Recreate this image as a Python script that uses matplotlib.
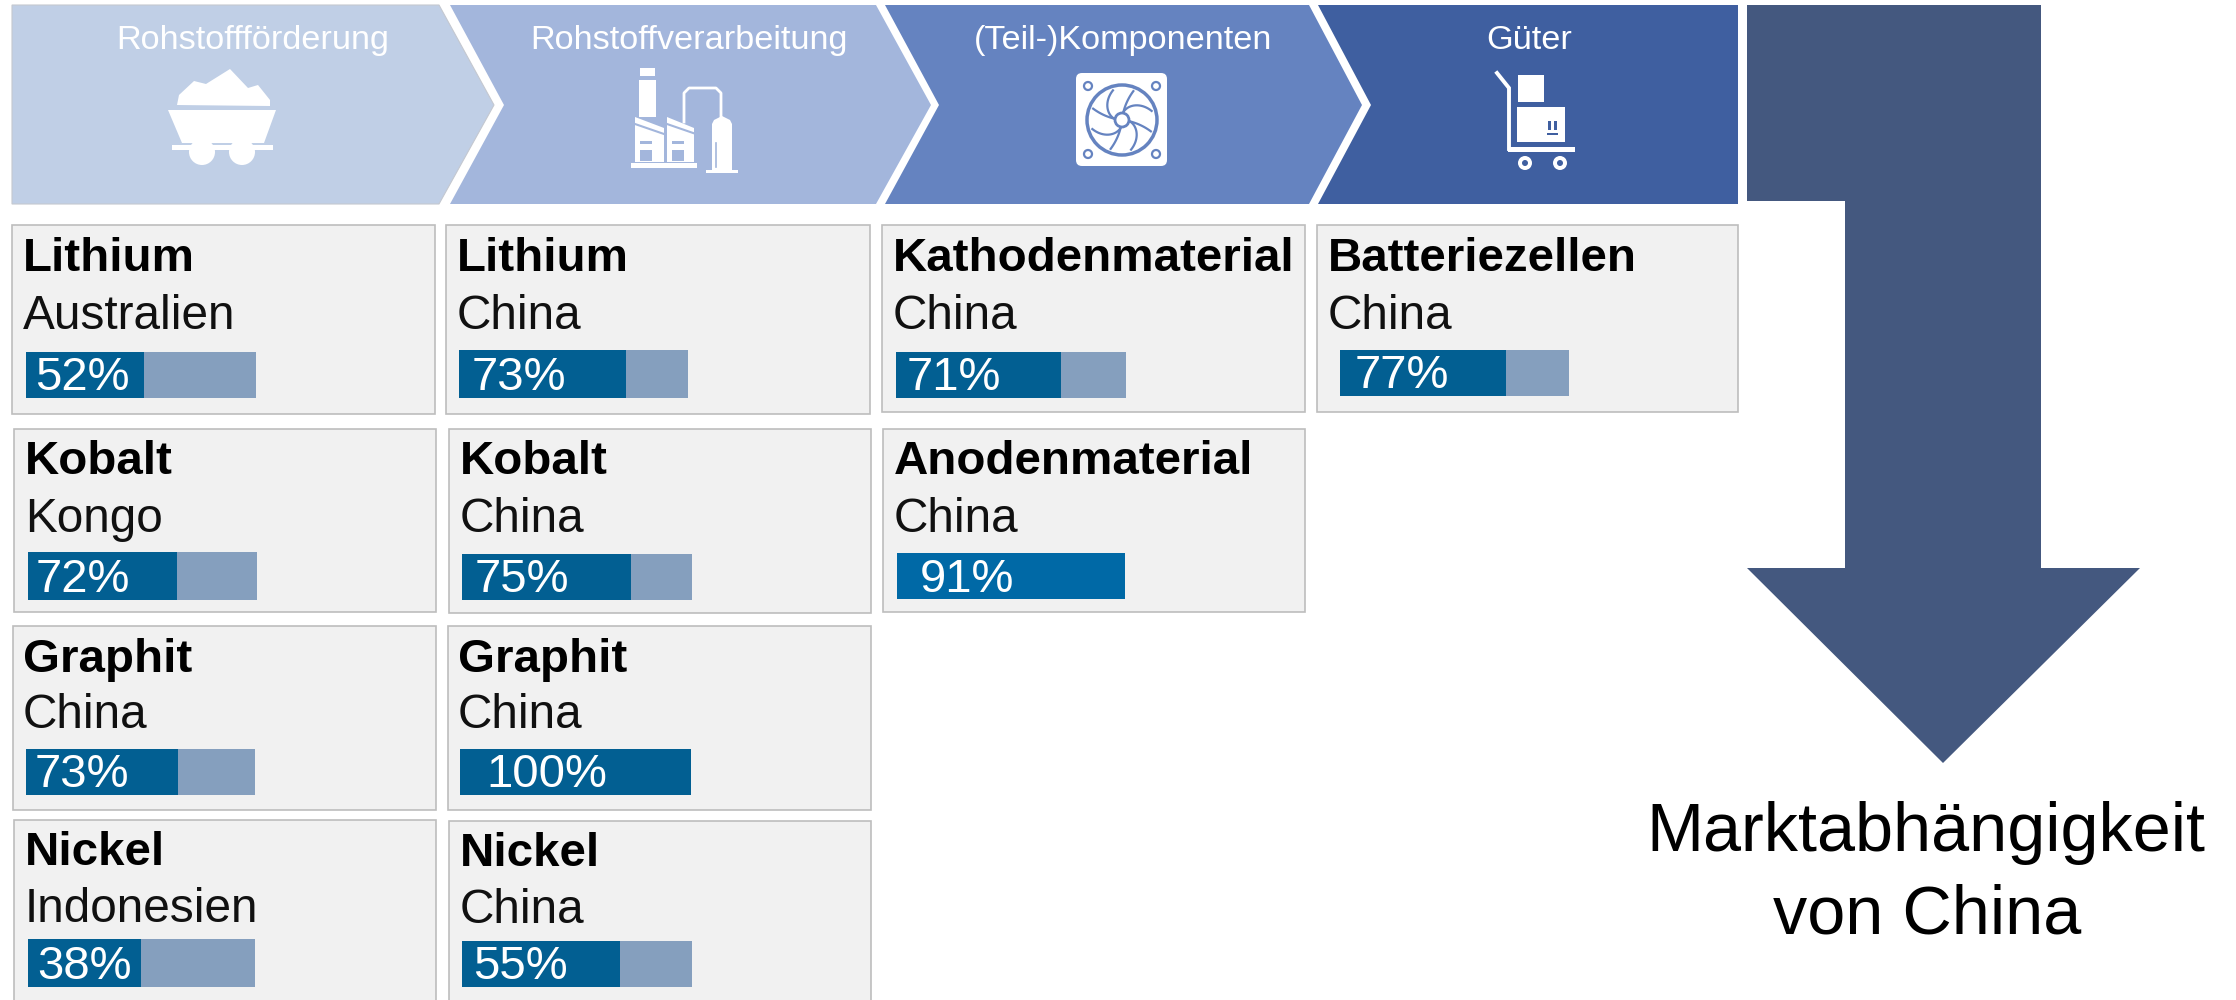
import numpy as np
import matplotlib
matplotlib.use('Agg')
import matplotlib.pyplot as plt
from matplotlib.patches import Polygon, Rectangle, Circle, FancyBboxPatch

plt.rcParams['font.family'] = ['Liberation Sans', 'DejaVu Sans']

# header steps
steps = ["Rohstoffförderung", "Rohstoffverarbeitung", "(Teil-)Komponenten", "Güter"]
step_colors = ['#C0CFE6', '#A3B6DC', '#6583C0', '#3F5FA0']

# cards, column by column
materials = ["Lithium", "Kobalt", "Graphit", "Nickel",
             "Lithium", "Kobalt", "Graphit", "Nickel",
             "Kathodenmaterial", "Anodenmaterial", "Batteriezellen"]
countries = ["Australien", "Kongo", "China", "Indonesien",
             "China", "China", "China", "China",
             "China", "China", "China"]
shares = [52, 72, 73, 38, 73, 75, 100, 55, 71, 91, 77]
# width of the dark part as drawn in the picture (does not always follow the label)
bar_fill = [0.514, 0.65, 0.665, 0.50, 0.73, 0.735, 1.0, 0.686, 0.72, 1.0, 0.727]

# card box x0, x1, y0, y1
card_x0 = [12, 14, 13, 14, 446, 449, 448, 449, 882, 883, 1317]
card_x1 = [435, 436, 436, 436, 870, 871, 871, 871, 1305, 1305, 1738]
card_y0 = [225, 429, 626, 820, 225, 429, 626, 821, 225, 429, 225]
card_y1 = [414, 612, 810, 1010, 414, 613, 810, 1010, 412, 612, 412]
# text positions
text_x = [23, 25, 23, 25, 457, 460, 458, 460, 893, 894, 1328]
title_y = [271, 474, 672, 865, 271, 474, 672, 866, 271, 474, 271]
sub_y = [329, 532, 728, 922, 329, 532, 728, 923, 329, 532, 329]
pct_x = [35, 36, 35, 37, 472, 475, 486, 473, 907, 920, 1355]
pct_y = [390, 592, 787, 979, 390, 592, 787, 979, 390, 592, 388]
# bar boxes
bar_x0 = [25.5, 27.5, 26, 27.5, 459, 462, 460, 462, 895.5, 897, 1340]
bar_x1 = [256, 257, 255, 255, 688, 692, 690.5, 692, 1126, 1125, 1569]
bar_y0 = [352, 552, 749, 939, 350, 554, 749, 941, 352, 553, 350]
bar_y1 = [398, 600, 795, 987, 398, 600, 795, 987, 398, 599, 396]

dark = '#025F92'
light = '#0069A6'
rest = '#859FBE'
arrow_color = '#44587F'

fig = plt.figure(figsize=(22.36, 10), dpi=100)
ax = fig.add_axes([0, 0, 1, 1])
ax.set_xlim(0, 2236)
ax.set_ylim(1000, 0)
ax.axis('off')

# chevrons
top, mid, bot = 5, 105, 204
ax.add_patch(Polygon([(12, top), (439, top), (494, mid), (439, bot), (12, bot)], fc=step_colors[0], ec='#C4C8D0', lw=0.8))
ax.add_patch(Polygon([(450, top), (876, top), (931, mid), (876, bot), (450, bot), (504, mid)], fc=step_colors[1], ec='none'))
ax.add_patch(Polygon([(885, top), (1309, top), (1362, mid), (1309, bot), (885, bot), (939, mid)], fc=step_colors[2], ec='none'))
ax.add_patch(Polygon([(1318, top), (1738, top), (1738, bot), (1318, bot), (1371, mid)], fc=step_colors[3], ec='none'))
step_x = [253, 689, 1123, 1529]
for i in range(4):
    ax.text(step_x[i], 49, steps[i], color='white', fontsize=24.7, ha='center', va='baseline')

# mine cart
ax.add_patch(Polygon([(177, 105), (179, 95), (194, 81), (206, 84), (230, 69), (248, 88), (258, 85), (270, 100), (270, 106)], fc='white', ec='none'))
ax.add_patch(Polygon([(168, 110), (276, 110), (264, 143), (182, 143)], fc='white', ec='none'))
ax.add_patch(Rectangle((172, 145), 101, 5, fc='white', ec='none'))
for cx in [202, 242]:
    ax.add_patch(Circle((cx, 152), 13, fc='white', ec='none'))

# factory
bg = step_colors[1]
ax.add_patch(Rectangle((640, 68), 15, 8, fc='white', ec='none'))
ax.add_patch(Rectangle((639, 80), 17, 37, fc='white', ec='none'))
ax.add_patch(Polygon([(635, 117), (664, 128), (664, 162), (635, 162)], fc='white', ec='none'))
ax.add_patch(Polygon([(667, 117), (694, 128), (694, 162), (667, 162)], fc='white', ec='none'))
for bx in [640, 672]:
    ax.add_patch(Rectangle((bx, 150), 12, 11, fc=bg, ec='none'))
    ax.add_patch(Rectangle((bx, 141), 12, 3, fc=bg, ec='none'))
    ax.plot([bx - 5, bx + 24], [124, 134], color=bg, lw=1.5)
ax.add_patch(Rectangle((631, 163), 66, 5, fc='white', ec='none'))
ax.plot([684, 684, 689, 716, 721, 721], [122, 93, 88, 88, 93, 118], color='white', lw=2)
ax.add_patch(Polygon([(712, 124), (714, 120), (722, 116), (730, 120), (732, 124), (732, 170), (712, 170)], fc='white', ec='none'))
ax.add_patch(Rectangle((706, 170), 32, 3, fc='white', ec='none'))
ax.plot([716, 716], [143, 167], color=bg, lw=1.2)

# fan
bg = step_colors[2]
ax.add_patch(FancyBboxPatch((1080, 77), 83, 85, boxstyle='round,pad=4,rounding_size=6', fc='white', ec='none'))
ax.add_patch(Circle((1122, 120), 35, fc='none', ec=bg, lw=2.5))
ax.add_patch(Circle((1122, 120), 7, fc='none', ec=bg, lw=2))
for hx, hy in [(1088, 86), (1156, 86), (1088, 154), (1156, 154)]:
    ax.add_patch(Circle((hx, hy), 4, fc='none', ec=bg, lw=1.6))
t = np.linspace(0, 1, 20)
for a in np.radians([10, 100, 190, 280]):
    r = 8 + 23 * t
    ax.plot(1122 + r * np.cos(a + 1.1 * t), 120 + r * np.sin(a + 1.1 * t), color=bg, lw=1.6)
    ax.plot(1122 + r * np.cos(a + 0.2 * t), 120 + r * np.sin(a + 0.2 * t), color=bg, lw=1.6)

# hand truck
bg = step_colors[3]
ax.plot([1497, 1509, 1509], [73, 88, 149], color='white', lw=2.8, solid_joinstyle='miter')
ax.add_patch(Rectangle((1508, 147), 67, 5, fc='white', ec='none'))
ax.add_patch(Rectangle((1518, 75), 26, 27, fc='white', ec='none'))
ax.add_patch(Rectangle((1517, 107), 48, 35, fc='white', ec='none'))
ax.add_patch(Rectangle((1548, 121), 2.5, 9, fc=bg, ec='none'))
ax.add_patch(Rectangle((1554, 121), 2.5, 9, fc=bg, ec='none'))
ax.add_patch(Rectangle((1547, 133), 11, 2, fc=bg, ec='none'))
for cx in [1525, 1560]:
    ax.add_patch(Circle((cx, 163), 7, fc='white', ec='none'))
    ax.add_patch(Circle((cx, 163), 3, fc=bg, ec='none'))

# arrow
ax.add_patch(Polygon([(1747, 5), (2041, 5), (2041, 568), (2140, 568), (1943, 763), (1747, 568), (1845, 568), (1845, 201), (1747, 201)], fc=arrow_color, ec='none'))
ax.text(1926, 851, "Marktabhängigkeit", fontsize=49.2, color='black', ha='center', va='baseline')
ax.text(1927, 934, "von China", fontsize=49.2, color='black', ha='center', va='baseline')

# cards
for i in range(len(materials)):
    ax.add_patch(Rectangle((card_x0[i], card_y0[i]), card_x1[i] - card_x0[i], card_y1[i] - card_y0[i],
                           fc='#F1F1F1', ec='#BDBDBD', lw=1.2))
    ax.text(text_x[i], title_y[i], materials[i], fontsize=34.2, fontweight='bold', color='black', va='baseline')
    ax.text(text_x[i], sub_y[i], countries[i], fontsize=34.4, color='#111111', va='baseline')
    h = bar_y1[i] - bar_y0[i]
    w = bar_x1[i] - bar_x0[i]
    yc = bar_y0[i] + h / 2
    ax.barh(yc, w, height=h, left=bar_x0[i], color=rest)
    ax.barh(yc, w * bar_fill[i], height=h, left=bar_x0[i], color=light if shares[i] == 91 else dark)
    ax.text(pct_x[i], pct_y[i], str(shares[i]) + "%", fontsize=34, color='white', va='baseline')

ax.set_xlim(0, 2236)
ax.set_ylim(1000, 0)
fig.savefig('out.png', dpi=100)
